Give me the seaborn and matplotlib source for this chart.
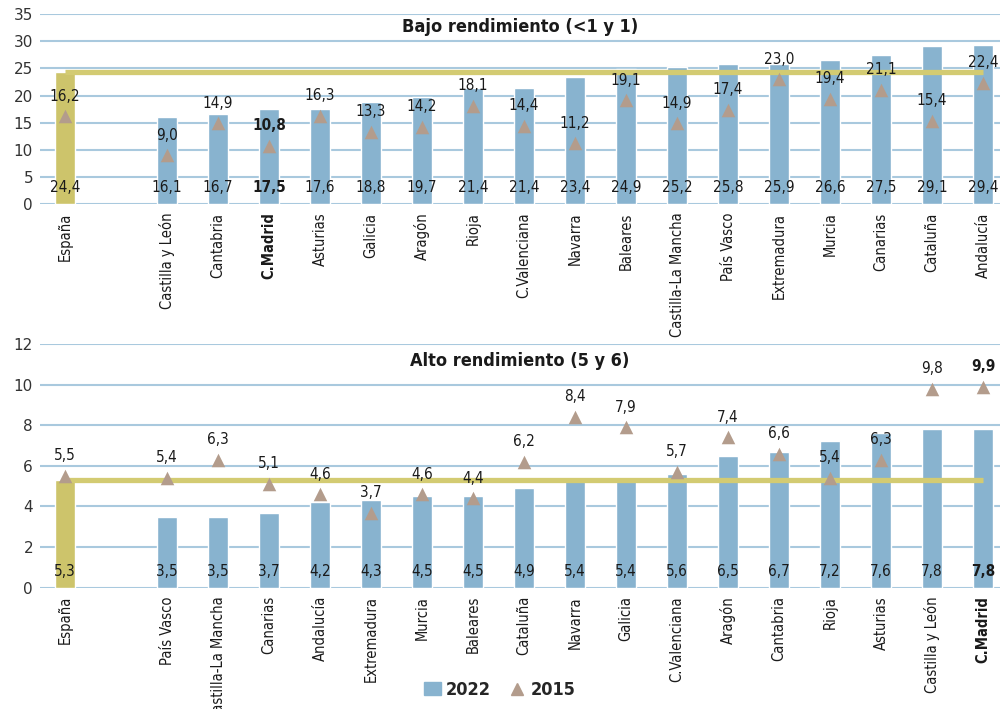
import numpy as np
import pandas as pd
import matplotlib
matplotlib.use("Agg")
import matplotlib.pyplot as plt
import seaborn as sns
from matplotlib.patches import Patch
from matplotlib.lines import Line2D
from matplotlib import font_manager

# --- datos ---
bajo_regiones = ["España", "Castilla y León", "Cantabria", "C.Madrid", "Asturias", "Galicia",
                 "Aragón", "Rioja", "C.Valenciana", "Navarra", "Baleares", "Castilla-La Mancha",
                 "País Vasco", "Extremadura", "Murcia", "Canarias", "Cataluña", "Andalucía"]
bajo_2022 = [24.4, 16.1, 16.7, 17.5, 17.6, 18.8, 19.7, 21.4, 21.4, 23.4, 24.9, 25.2,
             25.8, 25.9, 26.6, 27.5, 29.1, 29.4]
bajo_2015 = [16.2, 9.0, 14.9, 10.8, 16.3, 13.3, 14.2, 18.1, 14.4, 11.2, 19.1, 14.9,
             17.4, 23.0, 19.4, 21.1, 15.4, 22.4]

alto_regiones = ["España", "País Vasco", "Castilla-La Mancha", "Canarias", "Andalucía",
                 "Extremadura", "Murcia", "Baleares", "Cataluña", "Navarra", "Galicia",
                 "C.Valenciana", "Aragón", "Cantabria", "Rioja", "Asturias", "Castilla y León",
                 "C.Madrid"]
alto_2022 = [5.3, 3.5, 3.5, 3.7, 4.2, 4.3, 4.5, 4.5, 4.9, 5.4, 5.4, 5.6, 6.5, 6.7, 7.2,
             7.6, 7.8, 7.8]
alto_2015 = [5.5, 5.4, 6.3, 5.1, 4.6, 3.7, 4.6, 4.4, 6.2, 8.4, 7.9, 5.7, 7.4, 6.6, 5.4,
             6.3, 9.8, 9.9]

COL_BAR = "#88b3cf"
COL_ESP = "#cdc46b"
COL_LINE = "#d3cb72"
COL_TRI = "#b39c8c"
COL_GRID = "#a9c9de"

sns.set_theme(style="white")
nombres = {f.name for f in font_manager.fontManager.ttflist}
if "Liberation Sans Narrow" in nombres:
    plt.rcParams["font.family"] = ["Liberation Sans Narrow", "DejaVu Sans"]
else:
    plt.rcParams["font.family"] = ["DejaVu Sans"]
    plt.rcParams["font.stretch"] = "condensed"


def fmt(v):
    return f"{v:.1f}".replace(".", ",")


def panel(ax, regiones, v22, v15, titulo, ymax, ystep, off22):
    # hueco despues de España
    orden = [regiones[0], " "] + regiones[1:]
    df = pd.DataFrame({"region": regiones, "v22": v22, "v15": v15})
    pal = {r: (COL_ESP if r == "España" else COL_BAR) for r in orden}
    sns.barplot(data=df, x="region", y="v22", hue="region", order=orden, palette=pal,
                width=0.4, saturation=1, legend=False, ax=ax, zorder=2)
    pos = [orden.index(r) for r in regiones]
    ax.plot([pos[0], pos[-1]], [v22[0], v22[0]], color=COL_LINE, lw=3.8, zorder=3,
            solid_capstyle="butt")
    ax.scatter(pos, v15, marker="^", s=95, color=COL_TRI, zorder=4, linewidths=0)
    for p, r, a, b in zip(pos, regiones, v22, v15):
        w = "bold" if r == "C.Madrid" else "normal"
        ax.annotate(fmt(a), (p, 0), xytext=(0, off22), textcoords="offset points",
                    ha="center", va="center", fontsize=11, weight=w, color="#1a1a1a", zorder=5)
        ax.annotate(fmt(b), (p, b), xytext=(0, 14.5), textcoords="offset points",
                    ha="center", va="center", fontsize=11, weight=w, color="#1a1a1a", zorder=5)
    ax.set_xlim(-0.49, 18.33)
    ax.set_ylim(0, ymax)
    ax.set_yticks(np.arange(0, ymax + 0.1, ystep))
    ax.yaxis.grid(True, color=COL_GRID, lw=1.5, zorder=0)
    ax.set_axisbelow(True)
    for s in ax.spines.values():
        s.set_visible(False)
    ax.set_xlabel("")
    ax.set_ylabel("")
    ax.set_xticks(range(len(orden)))
    ax.set_xticklabels(orden, rotation=90, fontsize=10.5, color="#1a1a1a")
    for t in ax.get_xticklabels():
        if t.get_text() == "C.Madrid":
            t.set_fontweight("bold")
    for t in ax.get_yticklabels():
        t.set_fontstretch("normal")
    ax.tick_params(axis="both", length=0, pad=6)
    ax.tick_params(axis="y", labelsize=11, labelcolor="#333333", pad=5)
    ax.text(0.5, 0.93, titulo, transform=ax.transAxes, ha="center", va="center",
            fontsize=13, weight="bold", color="#1a1a1a")


fig = plt.figure(figsize=(10, 7.09), dpi=100)
ax1 = fig.add_axes([0.04, 0.712, 0.96, 0.268])
ax2 = fig.add_axes([0.04, 0.171, 0.96, 0.344])

panel(ax1, bajo_regiones, bajo_2022, bajo_2015, "Bajo rendimiento (<1 y 1)", 35, 5, 12)
panel(ax2, alto_regiones, alto_2022, alto_2015, "Alto rendimiento (5 y 6)", 12, 2, 12)

handles = [Patch(color=COL_BAR, label="2022"),
           Line2D([], [], marker="^", color=COL_TRI, ls="", markersize=9, label="2015")]
fig.legend(handles=handles, loc="center", bbox_to_anchor=(0.5, 0.027), ncol=2, frameon=False,
           prop={"size": 13, "weight": "bold", "stretch": "condensed"}, handlelength=0.9,
           handletextpad=0.3, columnspacing=1.0)

fig.savefig("out.png", dpi=100)
